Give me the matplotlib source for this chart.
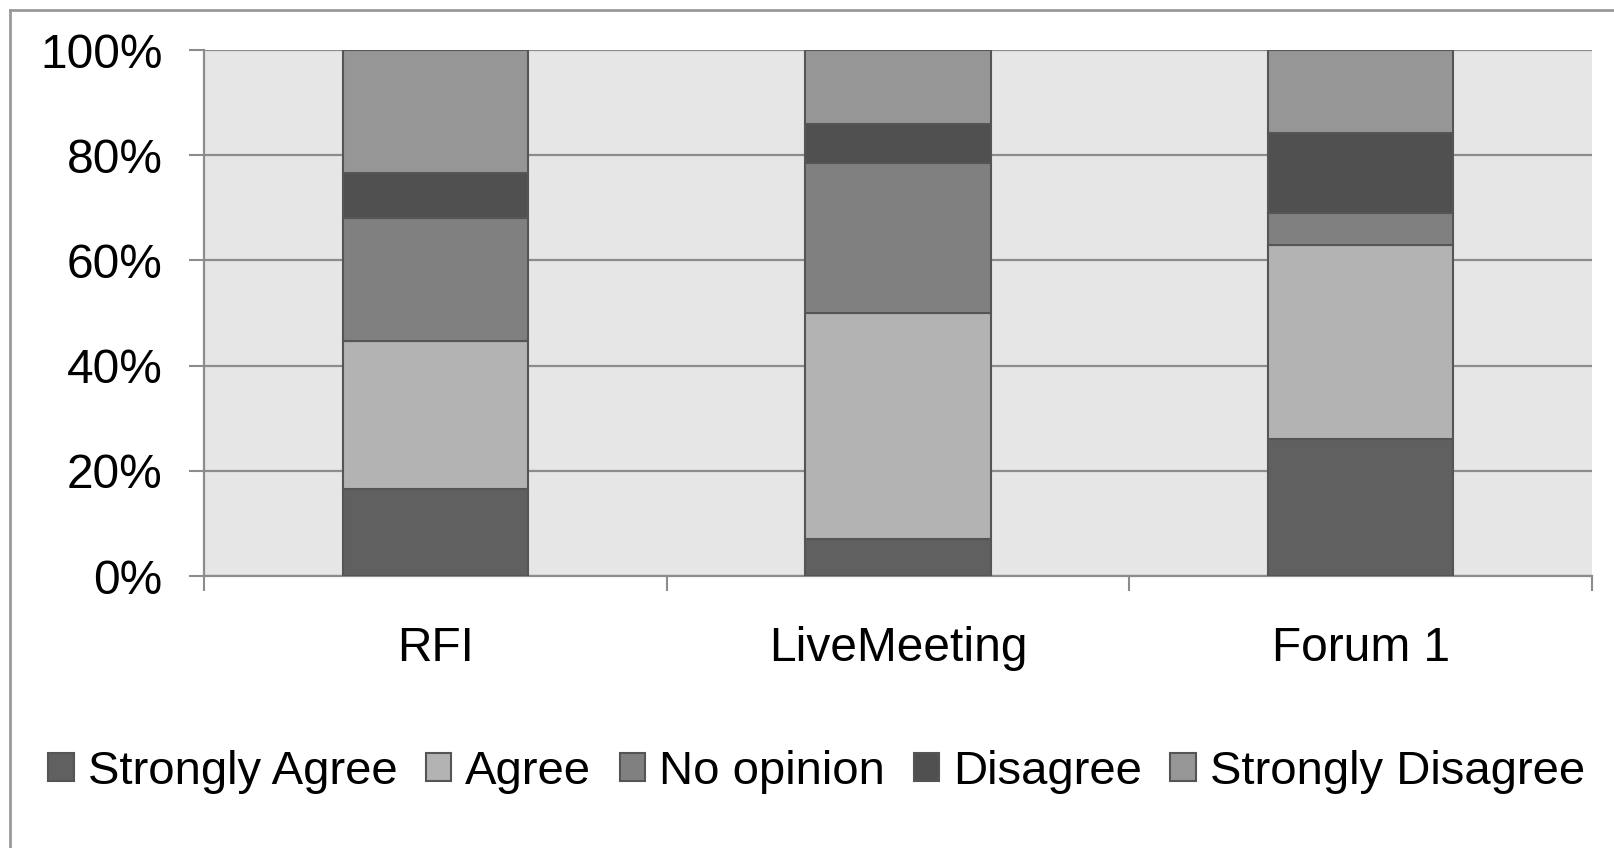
import matplotlib
matplotlib.use('Agg')
import matplotlib.pyplot as plt
import numpy as np
from matplotlib.patches import Patch
from matplotlib.lines import Line2D

plt.rcParams['font.family'] = ['Liberation Sans', 'DejaVu Sans']

### data (percent of respondents)
categories = ['RFI', 'LiveMeeting', 'Forum 1']
responses = ['Strongly Agree', 'Agree', 'No opinion', 'Disagree', 'Strongly Disagree']
strongly_agree = [16.6, 7.0, 26.0]
agree = [28.0, 43.0, 37.0]
no_opinion = [23.4, 28.5, 6.0]
disagree = [8.6, 7.5, 15.2]
strongly_disagree = [23.4, 14.0, 15.8]
y_ticks = [0, 20, 40, 60, 80, 100]

series = [strongly_agree, agree, no_opinion, disagree, strongly_disagree]
colors = ['#606060', '#b3b3b3', '#808080', '#505050', '#969696']
edge = '#555555'
grid_col = '#8c8c8c'
fs = 34.5

W, H = 1614, 848
fig = plt.figure(figsize=(W / 100, H / 100), dpi=100)
ax = fig.add_axes([204 / W, 1 - 576 / H, (1592 - 204) / W, (576 - 50) / H])
ax.set_facecolor('#e6e6e6')

x = np.arange(len(categories))
bottom = np.zeros(len(categories))
for vals, col in zip(series, colors):
    ax.bar(x, vals, 0.4, bottom=bottom, color=col, edgecolor=edge, linewidth=1.5, zorder=3)
    bottom += np.array(vals)

ax.set_xlim(-0.5, len(categories) - 0.5)
ax.set_ylim(0, 100)

### y axis
ax.set_yticks(y_ticks)
ax.set_yticklabels([f'{v}%' for v in y_ticks])
ax.yaxis.grid(True, color=grid_col, linewidth=1.6, zorder=0)
ax.set_axisbelow(True)
ax.tick_params(axis='y', length=10.8, width=1.5, color=grid_col, pad=19, labelsize=fs)

### x axis: ticks at category boundaries, labels centred
ax.set_xticks(np.arange(len(categories) + 1) - 0.5)
ax.set_xticklabels([])
ax.set_xticks(x, minor=True)
ax.set_xticklabels(categories, minor=True)
ax.tick_params(axis='x', which='major', length=10.8, width=1.5, color=grid_col)
ax.tick_params(axis='x', which='minor', length=0, pad=36, labelsize=fs)

for s in ['top', 'right']:
    ax.spines[s].set_visible(False)
for s in ['left', 'bottom']:
    ax.spines[s].set_color(grid_col)
    ax.spines[s].set_linewidth(1.6)

### legend
handles = [Patch(facecolor=c, edgecolor=edge, linewidth=1.5, label=r) for c, r in zip(colors, responses)]
fig.legend(handles=handles, loc='center', bbox_to_anchor=(0.506, 1 - 772 / H), ncol=5,
           frameon=False, fontsize=34, handlelength=0.54, handleheight=0.54,
           handletextpad=0.3, columnspacing=0.6, borderpad=0, borderaxespad=0)

### outer chart frame
fig.add_artist(Line2D([10 / W, 1], [1 - 9.5 / H, 1 - 9.5 / H], color='#999999', linewidth=2))
fig.add_artist(Line2D([10 / W, 10 / W], [0, 1 - 9.5 / H], color='#999999', linewidth=2))

fig.savefig('out.png', dpi=100)
